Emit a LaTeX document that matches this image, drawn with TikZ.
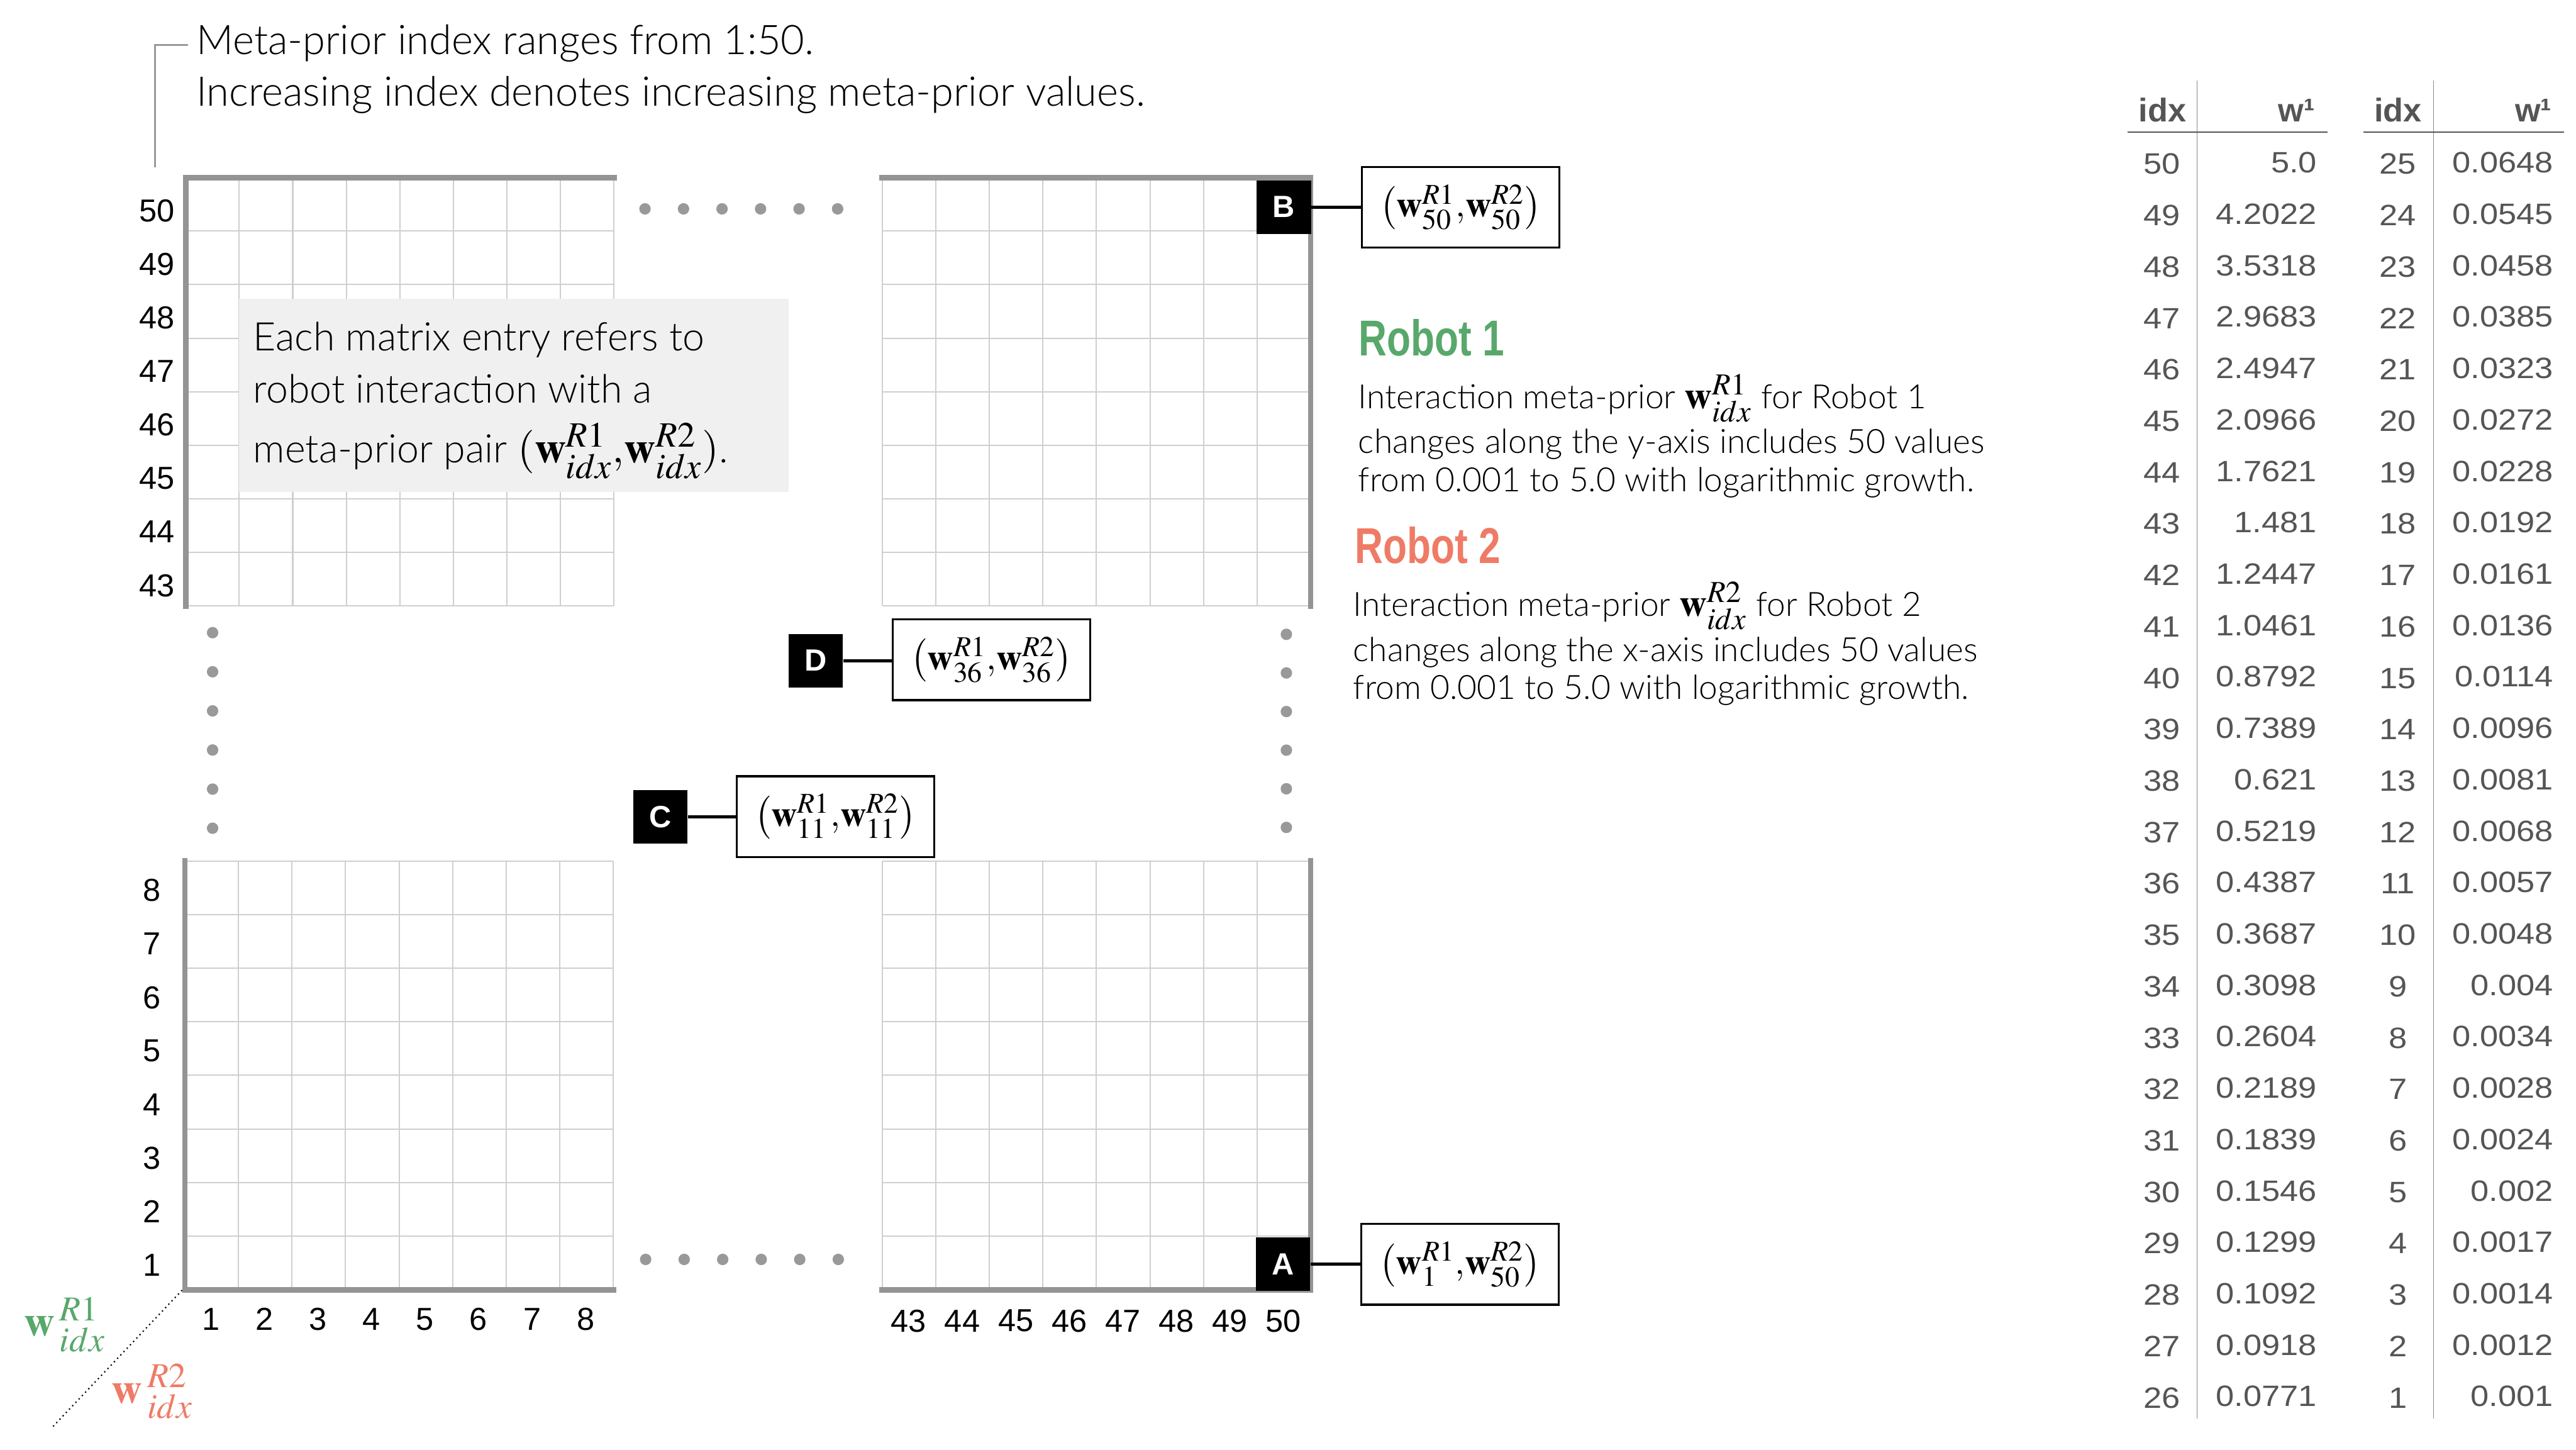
\documentclass[tikz,border=0pt]{standalone}
\usepackage{mathptmx}
\usepackage[no-math]{fontspec}
\setmainfont{Liberation Sans}
\newfontfamily\lightfont{Lato Light}
\newfontfamily\headfont{Liberation Sans}[FakeStretch=0.776]
\newfontfamily\tabfont{Liberation Sans}[FakeStretch=1.12]
\DeclareMathSizes{20.5}{20.5}{16.8}{12}
\DeclareMathSizes{18}{18}{14.4}{10}
\DeclareMathSizes{20}{20}{16.5}{12}
\DeclareMathSizes{17}{17}{13.6}{10}
\newcommand{\fsz}[1]{\fontsize{#1}{#1}\selectfont}
\definecolor{gridgray}{HTML}{CFCFCF}
\definecolor{axisgray}{HTML}{949494}
\definecolor{dotgray}{HTML}{999999}
\definecolor{boxgray}{HTML}{F0F0F0}
\definecolor{tabtext}{HTML}{555555}
\definecolor{tabline}{HTML}{8A8A8A}
\definecolor{ronegreen}{HTML}{58A86B}
\definecolor{rtwosalmon}{HTML}{EF7B66}
\newcommand{\mygrid}[2]{%
  \foreach \k in {0,...,8} {
    \draw[gridline] ({#1+\k*32.6},#2) -- ++(0,260.8);
    \draw[gridline] (#1,{#2+\k*32.6}) -- ++(260.8,0);
  }}
\newcommand{\wpair}[2]{\left(\mathbf{w}^{R1}_{#1}{,}\mathbf{w}^{R2}_{#2}\right)}
\begin{document}
\begin{tikzpicture}[x=0.027270cm, y=-0.027270cm,
  gridline/.style={draw=gridgray, line width=0.6pt},
  axisline/.style={draw=axisgray, line width=2.6pt, line cap=rect, line join=miter},
  dotmark/.style={fill=dotgray, draw=none},
  lighttext/.style={font=\lightfont, inner sep=0pt, anchor=base west},
  axlab/.style={font=\fsz{15}, inner sep=0pt},
  letterbox/.style={fill=black, text=white, font=\bfseries\fsz{14.5}, inner sep=0pt, minimum width=0.9cm, minimum height=0.885cm},
  labbox/.style={draw=black, line width=1pt, fill=white, inner sep=0pt, minimum width=3.28cm, minimum height=1.34cm, font=\fsz{17}},
  conn/.style={draw=black, line width=1.5pt},
  tabnum/.style={font=\tabfont\fsz{13.9}, text=tabtext, inner sep=0pt},
  tabhead/.style={font=\bfseries\fsz{15.5}, text=tabtext, inner sep=0pt},
  tabrule/.style={draw=tabtext, line width=0.45pt},
  tabvline/.style={draw=tabline, line width=0.35pt},
  robothead/.style={font=\headfont\bfseries\fsz{23.8}, inner sep=0pt, anchor=base west}]
\useasboundingbox (0,0) rectangle (1568,882);

% ---------- header and bracket
\coordinate (brA) at (114.5,27.4);
\coordinate (brB) at (94.5,102);
\draw[draw=dotgray, line width=0.9pt] (brA) -- (brA -| brB) -- (brB);
\node[lighttext, font=\lightfont\fsz{19.3}] (hdr1) at (119.3,33.2) {Meta-prior index ranges from 1:50.};
\node[lighttext, font=\lightfont\fsz{19.3}] (hdr2) at (119.3,64.4) {Increasing index denotes increasing meta-prior values.};

% ---------- grids
\mygrid{113}{108}
\mygrid{537}{108}
\mygrid{112.5}{524}
\mygrid{537}{524}
\draw[axisline] (113,368.8) -- (113,108) -- (373.8,108);
\draw[axisline] (537,108) -- (797.8,108) -- (797.8,368.8);
\draw[axisline] (112.5,524) -- (112.5,784.8) -- (373.3,784.8);
\draw[axisline] (537,784.8) -- (797.8,784.8) -- (797.8,524);

% ---------- axis labels
\foreach \n [count=\i from 0] in {50,49,...,43}
  \node[axlab, anchor=east] (tl\n) at (106.5,{128.1+32.6*\i}) {\n};
\foreach \n [count=\i from 0] in {8,7,...,1}
  \node[axlab, anchor=east] (bl\n) at (98,{541.8+32.6*\i}) {\n};
\foreach \n [count=\i from 0] in {1,...,8}
  \node[axlab] (bx\n) at ({128.3+32.6*\i},802.8) {\n};
\foreach \n [count=\i from 0] in {43,...,50}
  \node[axlab] (rx\n) at ({553.1+32.6*\i},803.8) {\n};

% ---------- dots
\foreach \i in {0,...,5} {
  \fill[dotmark] ({392.6+23.45*\i},127.1) circle[radius=0.095cm];
  \fill[dotmark] ({393+23.45*\i},766.4) circle[radius=0.095cm];
  \fill[dotmark] (129.4,{385+23.8*\i}) circle[radius=0.095cm];
  \fill[dotmark] (783,{386+23.5*\i}) circle[radius=0.095cm];
}

% ---------- info box
\node[fill=boxgray, inner sep=0pt, minimum width=9.119cm, minimum height=3.201cm] (infobox) at (312.8,240.5) {};
\node[lighttext, font=\lightfont\fsz{18.6}] (info1) at (153.9,213.6) {Each matrix entry refers to};
\node[lighttext, font=\lightfont\fsz{18.6}] (info2) at (153.9,245) {robot interaction with a};
\node[lighttext, font=\lightfont\fsz{18.6}] (info3) at (153.9,281.5) {meta-prior pair {\fsz{20.5}$(\mathbf{w}^{R1}_{idx}{,}\mathbf{w}^{R2}_{idx})$}.};

% ---------- letter boxes and labels
\node[letterbox] (B) at (781.5,126) {B};
\node[letterbox] (A) at (781,769.2) {A};
\node[letterbox] (C) at (401.9,497) {C};
\node[letterbox] (D) at (496.5,402) {D};
\node[labbox] (Blab) at (889,126.1) {$\wpair{50}{50}$};
\node[labbox] (Alab) at (888.7,769.4) {$\wpair{1}{50}$};
\node[labbox] (Clab) at (508.5,496.9) {$\wpair{11}{11}$};
\node[labbox] (Dlab) at (603.5,401.5) {$\wpair{36}{36}$};
\draw[conn] (B.east) -- (B.east -| Blab.west);
\draw[conn] (A.east) -- (A.east -| Alab.west);
\draw[conn] (C.east) -- (C.east -| Clab.west);
\draw[conn] (D.east) -- (D.east -| Dlab.west);

% ---------- robot descriptions
\node[robothead, text=ronegreen] (rob1) at (826.9,216.6) {Robot 1};
\node[lighttext, font=\lightfont\fsz{15.8}] (r1a) at (826.6,248.7) {Interaction meta-prior {\fsz{18}$\mathbf{w}^{R1}_{idx}$} for Robot 1};
\node[lighttext, font=\lightfont\fsz{15.8}] (r1b) at (826.6,275.9) {changes along the y-axis includes 50 values};
\node[lighttext, font=\lightfont\fsz{15.8}] (r1c) at (826.6,299.2) {from 0.001 to 5.0 with logarithmic growth.};
\node[robothead, text=rtwosalmon] (rob2) at (824.5,342.9) {Robot 2};
\node[lighttext, font=\lightfont\fsz{15.8}] (r2a) at (823.5,375) {Interaction meta-prior {\fsz{18}$\mathbf{w}^{R2}_{idx}$} for Robot 2};
\node[lighttext, font=\lightfont\fsz{15.8}] (r2b) at (823.5,402.4) {changes along the x-axis includes 50 values};
\node[lighttext, font=\lightfont\fsz{15.8}] (r2c) at (823.5,425.4) {from 0.001 to 5.0 with logarithmic growth.};

% ---------- bottom-left axis names
\coordinate (blcorner) at (110.6,785.4);
\coordinate (blend) at (32.4,867.9);
\draw[line width=0.9pt, line cap=round, dash pattern=on 0pt off 2.2pt] (blcorner) -- (blend);
\node[inner sep=0pt, anchor=base west, text=ronegreen, font=\fsz{20}] (wone) at (14.4,812.9) {$\mathbf{w}\kern2.4pt{}^{R1}_{idx}$};
\node[inner sep=0pt, anchor=base west, text=rtwosalmon, font=\fsz{20}] (wtwo) at (67.8,853.8) {$\mathbf{w}\kern2.4pt{}^{R2}_{idx}$};

% ---------- table
\draw[tabvline] (1337.4,49.1) -- (1337.4,863.3);
\draw[tabvline] (1481.3,49.1) -- (1481.3,863.3);
\draw[tabrule] (1295,80.4) -- (1416.6,80.4);
\draw[tabrule] (1438.6,80.4) -- (1560.7,80.4);
\node[tabhead, anchor=base] (hidxa) at (1316.3,74) {idx};
\node[tabhead, anchor=base east] (hwa) at (1409.3,74) {w¹};
\node[tabhead, anchor=base] (hidxb) at (1459.6,74) {idx};
\node[tabhead, anchor=base east] (hwb) at (1553.4,74) {w¹};
\foreach \v [count=\i from 0] in {5.0,4.2022,3.5318,2.9683,2.4947,2.0966,1.7621,1.481,1.2447,1.0461,0.8792,0.7389,0.621,0.5219,0.4387,0.3687,0.3098,0.2604,0.2189,0.1839,0.1546,0.1299,0.1092,0.0918,0.0771} {
  \pgfmathtruncatemacro\idx{50-\i}
  \node[tabnum, anchor=base] (ia\idx) at (1316,{106+31.28*\i}) {\idx};
  \node[tabnum, anchor=base east] (va\idx) at (1410.5,{105.2+31.28*\i}) {\v};
}
\foreach \v [count=\i from 0] in {0.0648,0.0545,0.0458,0.0385,0.0323,0.0272,0.0228,0.0192,0.0161,0.0136,0.0114,0.0096,0.0081,0.0068,0.0057,0.0048,0.004,0.0034,0.0028,0.0024,0.002,0.0017,0.0014,0.0012,0.001} {
  \pgfmathtruncatemacro\idx{25-\i}
  \node[tabnum, anchor=base] (ib\idx) at (1459.6,{106+31.28*\i}) {\idx};
  \node[tabnum, anchor=base east] (vb\idx) at (1554.4,{105.2+31.28*\i}) {\v};
}
\end{tikzpicture}
\end{document}
